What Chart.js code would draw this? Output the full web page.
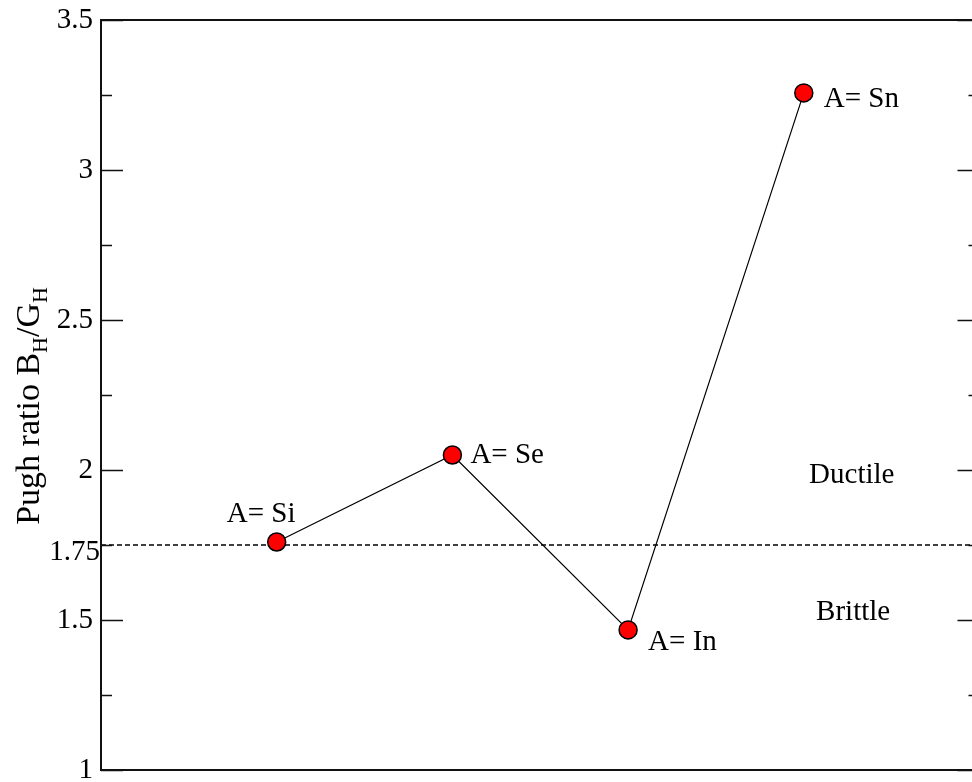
<!DOCTYPE html>
<html>
<head>
<meta charset="utf-8">
<script src="https://cdn.jsdelivr.net/npm/chart.js@4/dist/chart.umd.min.js"></script>
<style>
  html, body { margin: 0; padding: 0; background: #fff; overflow: hidden; width: 972px; height: 782px; }
  #wrap { position: absolute; left: 0; top: 0; width: 990px; height: 782px; }
</style>
</head>
<body>
<div id="wrap"><canvas id="c" width="990" height="782"></canvas></div>
<script>
// Pugh ratio B_H/G_H for each substituted element A
const elements = ['Si', 'Se', 'In', 'Sn'];
const positions = [1, 2, 3, 4];
const pughRatio = [1.76, 2.05, 1.467, 3.257];

// Ductile / brittle threshold
const threshold = 1.75;
const thresholdSpan = [0, 5];

// Y axis ticks
const majorTicks = [1, 1.5, 2, 2.5, 3, 3.5];
const minorTicks = [1.25, 1.75, 2.25, 2.75, 3.25];
const extraTickLabel = 1.75;

// Region labels
const regionLabels = [
  { text: 'Ductile', x: 4.03, y: 1.957 },
  { text: 'Brittle', x: 4.07, y: 1.5 }
];

// Label offsets for each point (pixels from the marker centre)
const labelOffsets = [[-50, -20], [18, 8], [20, 20], [20, 14]];

const FONT = '"Liberation Serif", "Times New Roman", serif';
const FS = 29;
const TITLE_FS = 34;

const pointData = positions.map((x, i) => ({ x, y: pughRatio[i] }));
const thresholdData = thresholdSpan.map(x => ({ x, y: threshold }));

const decorations = {
  id: 'decorations',
  afterDatasetsDraw(chart) {
    const { ctx, chartArea: a, scales } = chart;
    const xs = scales.x, ys = scales.y;
    ctx.save();
    // frame
    ctx.strokeStyle = '#111';
    ctx.lineWidth = 2;
    ctx.strokeRect(a.left, a.top, a.right - a.left, a.bottom - a.top);
    // inward ticks on both sides
    ctx.lineWidth = 1.5;
    const tick = (v, len) => {
      const y = Math.round(ys.getPixelForValue(v)) + 0.5;
      ctx.beginPath();
      ctx.moveTo(a.left, y); ctx.lineTo(a.left + len, y);
      ctx.moveTo(a.right, y); ctx.lineTo(a.right - len, y);
      ctx.stroke();
    };
    majorTicks.forEach(v => tick(v, 22));
    minorTicks.forEach(v => tick(v, 11));

    ctx.fillStyle = '#000';
    ctx.font = FS + 'px ' + FONT;
    // threshold tick label
    ctx.textAlign = 'right';
    ctx.textBaseline = 'middle';
    ctx.fillText(String(extraTickLabel), a.left - 1, ys.getPixelForValue(extraTickLabel) + 7);

    // point labels
    ctx.textAlign = 'left';
    ctx.textBaseline = 'alphabetic';
    elements.forEach((el, i) => {
      const px = xs.getPixelForValue(positions[i]);
      const py = ys.getPixelForValue(pughRatio[i]);
      ctx.fillText('A= ' + el, px + labelOffsets[i][0], py + labelOffsets[i][1]);
    });
    // region labels
    regionLabels.forEach(r => {
      ctx.fillText(r.text, xs.getPixelForValue(r.x), ys.getPixelForValue(r.y));
    });

    // y axis title with subscripts
    const cx = 39, cy = 406;
    ctx.translate(cx, cy);
    ctx.rotate(-Math.PI / 2);
    const parts = [
      { t: 'Pugh ratio B', s: TITLE_FS, dy: 0 },
      { t: 'H', s: 22, dy: 8 },
      { t: '/G', s: TITLE_FS, dy: 0 },
      { t: 'H', s: 22, dy: 8 }
    ];
    let total = 0;
    parts.forEach(p => { ctx.font = p.s + 'px ' + FONT; p.w = ctx.measureText(p.t).width; total += p.w; });
    let x = -total / 2;
    parts.forEach(p => {
      ctx.font = p.s + 'px ' + FONT;
      ctx.fillText(p.t, x, p.dy);
      x += p.w;
    });
    ctx.restore();
  }
};

new Chart(document.getElementById('c'), {
  type: 'line',
  data: {
    datasets: [
      {
        data: pointData,
        borderColor: '#000',
        borderWidth: 1.2,
        pointRadius: 9,
        pointHoverRadius: 9,
        pointBackgroundColor: '#ff0000',
        pointBorderColor: '#000',
        pointBorderWidth: 1.5,
        tension: 0,
        order: 0
      },
      {
        data: thresholdData,
        borderColor: '#000',
        borderWidth: 1.4,
        borderDash: [5, 3],
        pointRadius: 0,
        order: 1
      }
    ]
  },
  options: {
    responsive: false,
    animation: false,
    events: [],
    layout: { padding: { top: 20, bottom: 12, right: 10, left: 0 } },
    plugins: { legend: { display: false }, tooltip: { enabled: false } },
    scales: {
      x: { type: 'linear', min: 0, max: 5, display: false },
      y: {
        type: 'linear',
        min: 1,
        max: 3.5,
        afterBuildTicks(scale) {
          scale.ticks = majorTicks.map(v => ({ value: v }));
        },
        afterFit(scale) {
          scale.width = 101;
          scale.paddingTop = 0;
          scale.paddingBottom = 0;
        },
        grid: { display: false, drawTicks: false },
        border: { display: false },
        ticks: {
          color: '#000',
          padding: 8,
          font: { family: FONT, size: FS },
          callback: v => String(v)
        }
      }
    }
  },
  plugins: [decorations]
});
</script>
</body>
</html>
